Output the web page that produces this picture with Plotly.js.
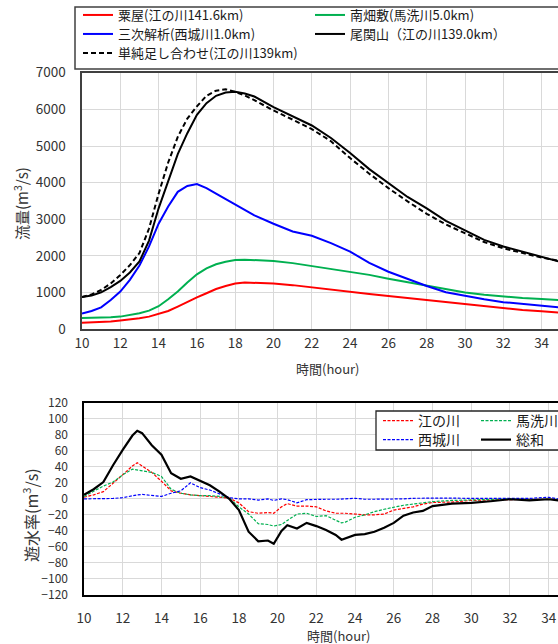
<!DOCTYPE html>
<html>
<head>
<meta charset="utf-8">
<script src="https://cdn.plot.ly/plotly-3.0.1.min.js"></script>
<style>
html,body{margin:0;padding:0;background:#fff;width:558px;height:644px;overflow:hidden;}
#chart{width:620px;height:644px;}
</style>
</head>
<body>
<div id="chart"></div>
<script>
// ---- top chart: discharge (m3/s) ----
const hoursTop = [10,10.5,11,11.5,12,12.5,13,13.5,14,14.5,15,15.5,16,16.5,17,17.5,18,18.5,19,20,21,22,23,24,25,26,27,28,29,30,31,32,33,34,34.9];
const awaya     = [182,185,191,210,237,264,300,346,419,500,619,750,870,984,1100,1180,1250,1275,1270,1250,1205,1140,1075,1025,965,910,855,800,740,670,615,565,525,490,460];
const minamiHataShiki = [310,310,320,330,346,382,437,510,630,820,1030,1275,1500,1660,1775,1840,1890,1900,1895,1865,1805,1730,1650,1575,1485,1380,1285,1180,1080,1005,940,890,855,825,800];
const miyoshiAnalysis = [430,500,600,800,1030,1350,1740,2260,2880,3350,3750,3910,3960,3850,3700,3550,3390,3240,3110,2880,2670,2550,2350,2120,1810,1570,1370,1180,1010,910,820,740,685,640,600];
const ozekiyama = [880,920,1010,1150,1320,1550,1850,2420,3300,4050,4780,5350,5850,6170,6370,6460,6480,6430,6350,6060,5810,5560,5220,4810,4370,3990,3610,3300,2960,2700,2440,2260,2120,1985,1850];
const simpleSum = [880,950,1075,1250,1480,1750,2080,2750,3700,4550,5250,5750,6080,6370,6510,6550,6480,6380,6250,5970,5720,5460,5130,4670,4245,3850,3490,3150,2860,2610,2380,2210,2075,1955,1870];

// ---- bottom chart: retention rate (m3/s) ----
const hoursBot = [10,10.5,11,11.5,12,12.5,12.75,13,13.5,14,14.5,15,15.5,16,16.5,17,17.5,18,18.5,19,19.5,19.8,20.2,20.5,21,21.5,22,22.5,23,23.3,23.5,24,24.5,25,25.5,26,26.5,27,27.5,28,29,30,31,32,33,34,34.5];
const gonokawa = [2,5,9,19,30,41,45,41,33,22,10,7,5,4,3,2,1,-5,-16,-18,-17,-18,-10,-6,-9,-9,-10,-15,-18,-18,-18,-19,-20,-20,-19,-14,-12,-10,-6.5,-4.5,-4,-2,-1.4,-0.5,-0.5,-0.5,-1];
const basengawa = [3,10,16,21,30,37,36,35,33,28,12,7,5,4,4,3,1,-10,-19,-31,-32,-34,-32,-27,-19,-18,-22,-21,-26,-30,-29,-23,-20,-16,-13,-10.5,-8,-6.5,-4.6,-3.5,-2,-1.4,-0.5,0,-0.5,-0.5,-0.5];
const saijogawa = [0,0,0,0.5,1.5,4,5,5.5,4,3,7,10,20,14,11,6,1.5,0,0,-1.5,0,-2,0,-1,-5,-1,-0.5,-0.5,-0.5,-0.5,0,0.7,-0.5,-0.5,-0.5,0,0,0.7,1,1,1,0.5,0.5,1,0.5,2,0];
const total = [5,12,21,42,61,79,85,82,67,55,32,25,28,23,17,9,0,-14,-41,-53,-52,-56,-40,-33,-37,-30,-34,-39,-45,-51,-49,-45,-44,-41,-36,-30,-21,-17,-15,-9,-6,-5,-3,-0.5,-2,-0.5,-2];

const topNames = ['粟屋(江の川141.6km)','南畑敷(馬洗川5.0km)','三次解析(西城川1.0km)','尾関山（江の川139.0km）','単純足し合わせ(江の川139km)'];
const botNames = ['江の川','馬洗川','西城川','総和'];

const W = 620, H = 644;
const px = v => v / W;
const py = v => 1 - v / H;
const FONT = '"Noto Sans CJK JP", "Noto Sans", sans-serif';

const traces = [
  {x: hoursTop, y: awaya, name: topNames[0], legend: 'legend', line: {color: '#FF0000', width: 2}},
  {x: hoursTop, y: minamiHataShiki, name: topNames[1], legend: 'legend', line: {color: '#00B050', width: 2}},
  {x: hoursTop, y: miyoshiAnalysis, name: topNames[2], legend: 'legend2', line: {color: '#0000FF', width: 2}},
  {x: hoursTop, y: ozekiyama, name: topNames[3], legend: 'legend2', line: {color: '#000000', width: 2}},
  {x: hoursTop, y: simpleSum, name: topNames[4], legend: 'legend3', line: {color: '#000000', width: 2, dash: '5px,3px'}},
  {x: hoursBot, y: gonokawa, name: botNames[0], legend: 'legend4', xaxis: 'x2', yaxis: 'y2', line: {color: '#FF0000', width: 1.2, dash: '3px,1.5px'}},
  {x: hoursBot, y: basengawa, name: botNames[1], legend: 'legend4', xaxis: 'x2', yaxis: 'y2', line: {color: '#00B050', width: 1.2, dash: '3px,1.5px'}},
  {x: hoursBot, y: saijogawa, name: botNames[2], legend: 'legend5', xaxis: 'x2', yaxis: 'y2', line: {color: '#0000FF', width: 1.2, dash: '3px,1.5px'}},
  {x: hoursBot, y: total, name: botNames[3], legend: 'legend5', xaxis: 'x2', yaxis: 'y2', line: {color: '#000000', width: 2.2}}
].map(t => Object.assign({type: 'scatter', mode: 'lines', hoverinfo: 'skip'}, t));

function legendAt(xPix, yPix, entry, size) {
  return {
    orientation: 'h', xref: 'paper', yref: 'paper',
    x: px(xPix), y: py(yPix), xanchor: 'left', yanchor: 'middle',
    entrywidth: entry, entrywidthmode: 'pixels',
    bgcolor: 'rgba(0,0,0,0)', borderwidth: 0,
    font: {family: FONT, size: size, color: '#1a1a1a'},
    traceorder: 'normal', itemclick: false
  };
}

const axisCommon = {
  showgrid: true, gridcolor: '#d9d9d9', gridwidth: 1,
  zeroline: false, showline: true, mirror: true,
  ticks: '', automargin: false, fixedrange: true
};

const layout = {
  width: W, height: H,
  margin: {l: 0, r: 0, t: 0, b: 0},
  paper_bgcolor: '#ffffff', plot_bgcolor: '#ffffff',
  font: {family: FONT, color: '#333333'},
  showlegend: true,
  xaxis: Object.assign({}, axisCommon, {
    domain: [px(82), px(574)], range: [10, 35.69], anchor: 'y',
    tickmode: 'linear', tick0: 10, dtick: 2,
    linecolor: '#404040', linewidth: 1.6,
    tickfont: {family: FONT, size: 13.5, color: '#333333'},
    ticklabelstandoff: 1
  }),
  yaxis: Object.assign({}, axisCommon, {
    domain: [py(329.3), py(72.7)], range: [0, 7000], anchor: 'x',
    tickmode: 'linear', tick0: 0, dtick: 1000,
    linecolor: '#404040', linewidth: 1.6,
    tickfont: {family: FONT, size: 13.5, color: '#333333'},
    ticklabelstandoff: 12
  }),
  xaxis2: Object.assign({}, axisCommon, {
    domain: [px(84), px(594)], range: [10, 36.34], anchor: 'y2',
    tickmode: 'linear', tick0: 10, dtick: 2,
    linecolor: '#000000', linewidth: 1.6,
    tickfont: {family: FONT, size: 13.5, color: '#333333'},
    ticklabelstandoff: 10
  }),
  yaxis2: Object.assign({}, axisCommon, {
    domain: [py(595), py(402.7)], range: [-120, 120], anchor: 'x2',
    tickmode: 'linear', tick0: -120, dtick: 20,
    linecolor: '#000000', linewidth: 1.6,
    tickfont: {family: FONT, size: 12, color: '#333333'},
    ticklabelstandoff: 12
  }),
  legend: legendAt(78, 15, 187, 13),
  legend2: legendAt(78, 34, 187, 13),
  legend3: legendAt(78, 53, 187, 13),
  legend4: legendAt(378, 421, 53, 14),
  legend5: legendAt(378, 440, 53, 14),
  shapes: [
    {type: 'rect', xref: 'paper', yref: 'paper', x0: px(75), x1: px(700), y0: py(69), y1: py(7),
     line: {color: '#404040', width: 1.5}, fillcolor: '#ffffff', layer: 'above'},
    {type: 'rect', xref: 'paper', yref: 'paper', x0: px(376), x1: px(700), y0: py(450), y1: py(411),
     line: {color: '#262626', width: 1.3}, fillcolor: '#ffffff', layer: 'above'}
  ],
  annotations: [
    {text: '時間(hour)', xref: 'paper', yref: 'paper', x: px(328), y: py(368), showarrow: false,
     xanchor: 'center', yanchor: 'middle', font: {family: FONT, size: 13, color: '#333333'}},
    {text: '時間(hour)', xref: 'paper', yref: 'paper', x: px(339), y: py(635), showarrow: false,
     xanchor: 'center', yanchor: 'middle', font: {family: FONT, size: 13, color: '#333333'}},
    {text: '流量(m<sup>3</sup>/s)', xref: 'paper', yref: 'paper', x: px(21), y: py(204), showarrow: false,
     textangle: -90, xanchor: 'center', yanchor: 'middle', font: {family: FONT, size: 15, color: '#333333'}},
    {text: '遊水率(m<sup>3</sup>/s)', xref: 'paper', yref: 'paper', x: px(30), y: py(515), showarrow: false,
     textangle: -90, xanchor: 'center', yanchor: 'middle', font: {family: FONT, size: 16, color: '#333333'}}
  ]
};

Plotly.newPlot('chart', traces, layout, {staticPlot: true, displayModeBar: false});
</script>
</body>
</html>
